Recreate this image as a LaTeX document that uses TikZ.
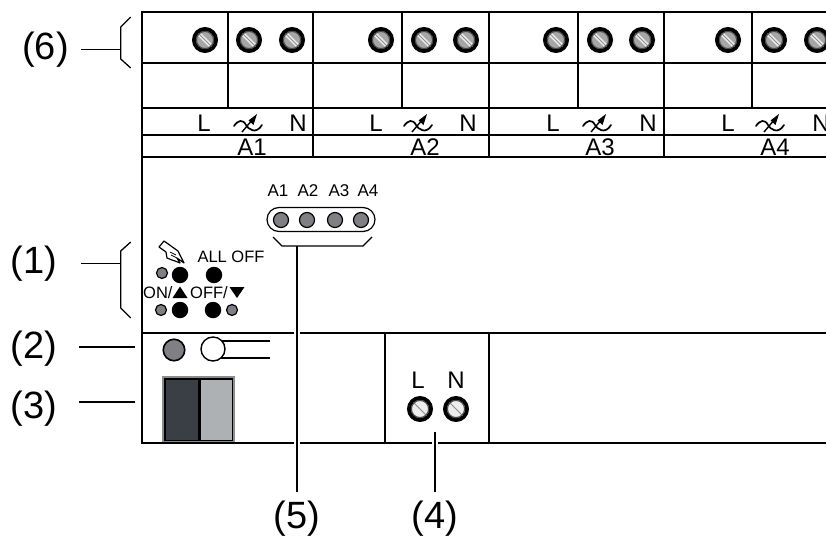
\documentclass[tikz,border=0pt]{standalone}
\usepackage{fontspec}
\setmainfont{Liberation Sans}
\begin{document}
\begin{tikzpicture}[x=1pt,y=-1pt,line cap=butt]
\definecolor{ledgray}{HTML}{7F7F84}
\definecolor{darksw}{HTML}{3A3E45}
\definecolor{lightsw}{HTML}{AEB1B3}
\tikzset{
 frame/.style={line width=1.6pt,black},
 thin frame/.style={line width=1.3pt,black},
 lead/.style={line width=1.3pt,black},
 label/.style={inner sep=0pt,font=\fontsize{38}{40}\selectfont},
 term/.style={inner sep=0pt,font=\fontsize{24}{25}\selectfont},
 small/.style={inner sep=0pt,font=\fontsize{17}{18}\selectfont},
 screwbody/.style={circle,minimum size=22pt,inner sep=0pt,draw=black,line width=4pt,fill=#1},
 led/.style={circle,minimum size=#1,inner sep=0pt,draw=black,line width=1.2pt,fill=ledgray},
 blackdot/.style={circle,minimum size=16.5pt,inner sep=0pt,fill=black},
}
\useasboundingbox (0,0) rectangle (826,537);
\fill[white] (0,0) rectangle (826,537);
% frame
\draw[frame] (826,12) -- (142,12) -- (142,443) -- (294,443);
\draw[frame] (300,443) -- (432,443);
\draw[frame] (438,443) -- (826,443);
\draw[frame] (142,333) -- (294,333);
\draw[frame] (300,333) -- (826,333);
\draw[thin frame] (142,63) -- (826,63);
\draw[frame] (142,108) -- (826,108);
\draw[thin frame] (142,135) -- (826,135);
\draw[frame] (142,157) -- (826,157);
\foreach \x in {313,489,664}{\draw[thin frame] (\x,12) -- (\x,157);}
\foreach \x in {228,402,578,752}{\draw[thin frame] (\x,12) -- (\x,108);}
\draw[thin frame] (385,333) -- (385,443);
\draw[thin frame] (489,333) -- (489,443);
% screws
\foreach \n/\x in {a/205,b/249,c/292,d/381,e/424,f/466,g/556,h/600,i/642,j/728,k/774,l/817}{
 \node[screwbody=black!35] (s\n) at (\x,40) {};
 \draw[line width=4pt,black!8] (\x-6,34) -- (\x+6,46);
 \draw[line width=.8pt,black!45] (\x-6.5,33.5) -- (\x+6.5,46.5);
 \draw[line width=1.1pt,black!70] (\x,40) circle (8.6);
}
% terminal labels
\foreach \n/\x/\sx/\nx/\tx/\t in {p/204/248/298/252/A1,q/376/418/468/425/A2,r/553/597/648/600/A3,s/728/770/821/775/A4}{
 \node[term] (L\n) at (\x,123) {L};
 \node[term] (N\n) at (\nx,123) {N};
 \node[term] (T\n) at (\tx,147) {\t};
 \begin{scope}[shift={(\sx,124)}]
  \draw[line width=1.7pt,line cap=round] (-14,2) .. controls (-10,-4) and (-5,-5) .. (-2,1) .. controls (0,5) and (8,11) .. (14,1);
  \draw[line width=1.4pt] (-6,8) -- (5,-5);
  \fill (9,-10) -- (0.5,-3.5) -- (5.5,1) -- cycle;
 \end{scope}
}
% LED strip
\node[small] (t1) at (278,191) {A1};
\node[small] (t2) at (308,191) {A2};
\node[small] (t3) at (339,191) {A3};
\node[small] (t4) at (368,191) {A4};
\draw[line width=1.2pt,rounded corners=12pt] (267,207.5) rectangle (375,231.5);
\foreach \n/\x in {1/281,2/307,3/335,4/361}{\node[led=15pt] (la\n) at (\x,220) {};}
\coordinate (br5) at (297,246);
\draw[lead] (273,237) -- (282,246) -- (363,246) -- (372,237);
% buttons
\node[small,font=\fontsize{16.5}{18}\selectfont] (alloff) at (231,257) {ALL OFF};
\node[blackdot] (b1) at (180,275) {};
\node[blackdot] (b2) at (214,275) {};
\node[blackdot] (b3) at (180,310) {};
\node[blackdot] (b4) at (213,310) {};
\node[led=11pt] (g1) at (162,273) {};
\node[led=11pt] (g2) at (161,310) {};
\node[led=11pt] (g3) at (232,310) {};
\node[small,font=\fontsize{16.5}{18}\selectfont,anchor=west] (on) at (143,293) {ON/};
\node[small,font=\fontsize{16.5}{18}\selectfont,anchor=west] (off) at (190,293) {OFF/};
\fill (180,286.5) -- (187.5,298) -- (172.5,298) -- cycle;
\fill (237,298) -- (244.5,287) -- (229.5,287) -- cycle;
% hand
\draw[line width=1.2pt,fill=white,line join=round] (159,247) -- (164,241) -- (171,246) -- (178,251) -- (184,263) -- (177,258) -- (180,263) -- (175,261) -- (172,260) -- (167,258) -- (166,252) -- cycle;
\draw[line width=.8pt] (171,255) -- (177,258) (170,252) -- (176,255);
% power section
\node[led=21.5pt,line width=1.6pt] (pled) at (174,350) {};
\draw[lead] (214,341) -- (270,341);
\draw[lead] (214,358) -- (270,358);
\node[circle,minimum size=24pt,inner sep=0pt,draw=black,line width=1.4pt,fill=white] (sw) at (213,349) {};
\fill[black!45] (162,376) rectangle (235,443);
\fill[black] (164,378) rectangle (233,441);
\fill[darksw] (166,380) rectangle (198,440);
\fill[lightsw] (201,380) rectangle (232,440);
\draw[frame] (142,443) -- (294,443);
% LN
\node[term] (pL) at (418,380) {L};
\node[term] (pN) at (456,380) {N};
\node[screwbody=black!7] (sL) at (420,409) {};
\node[screwbody=black!7] (sN) at (456,409) {};
\draw[line width=1pt,black!45] (413.5,402.5) -- (426.5,415.5);
\draw[line width=1pt,black!45] (449.5,402.5) -- (462.5,415.5);
\draw[line width=1.1pt,black!70] (420,409) circle (8.6);
\draw[line width=1.1pt,black!70] (456,409) circle (8.6);
% callouts
\node[label] (l6) at (45.5,50) {(6)};
\node[label] (l1) at (34,264) {(1)};
\node[label] (l2) at (34,349) {(2)};
\node[label] (l3) at (34,409) {(3)};
\node[label] (l5) at (297,519) {(5)};
\node[label] (l4) at (435,519) {(4)};
\coordinate (s6) at (81,49.5);
\coordinate (c6) at (120.7,49.5);
\coordinate (s1) at (81,263.5);
\coordinate (c1) at (120.7,263.5);
\coordinate (s2) at (79,347);
\coordinate (c2) at (134.5,347);
\coordinate (s3) at (79,402);
\coordinate (c3) at (134.5,402);
\coordinate (c4) at (435,431.5);
\draw[lead] (s6) -- (c6);
\draw[lead] (s1) -- (c1);
\draw[lead] (s2) -- (c2);
\draw[lead] (s3) -- (c3);
\draw[lead] (130.7,17) -- (120.7,27) -- (120.7,59) -- (130.7,68);
\draw[lead] (130.7,242) -- (120.7,251) -- (120.7,308) -- (130.7,318);
\draw[lead] (br5) -- (297,492);
\draw[lead] (c4) -- (435,492);
\end{tikzpicture}
\end{document}
